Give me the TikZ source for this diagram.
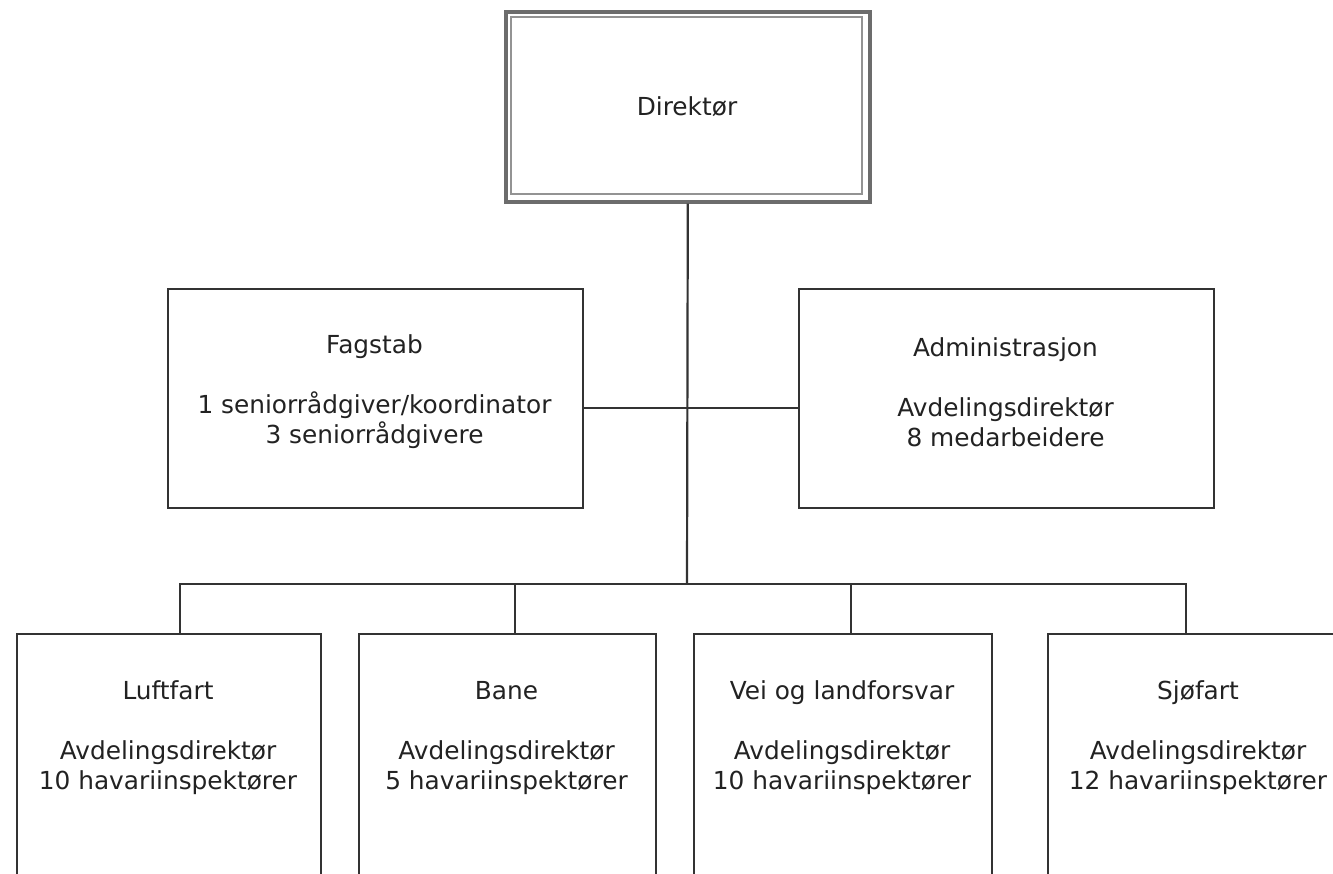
\documentclass[tikz,border=0pt]{standalone}
\usepackage{fontspec}
\setmainfont{DejaVu Sans}
\definecolor{lc}{HTML}{333333}
\definecolor{tc}{HTML}{222222}
\begin{document}
\begin{tikzpicture}[x=0.5pt,y=-0.5pt,
  box/.style={draw=lc, line width=1.2pt, fill=white, inner sep=0pt, anchor=north west},
  lbl/.style={text=tc, align=center, font=\fontsize{12.4}{15}\selectfont, inner sep=0pt},
  conn/.style={draw=lc, line width=1.1pt}]
\useasboundingbox (0,0) rectangle (1333,873);
\clip (0,0) rectangle (1333,873);
% Direktor
\node[box, draw=gray!85!black, line width=1.8pt, minimum width=182pt, minimum height=95pt] (dir) at (504,10) {};
\draw[gray!85, line width=1pt] (510.5,16.5) rectangle (861.5,193.5);
\node[lbl] (dirt) at (687,107) {Direktør};
% Fagstab / Administrasjon
\node[box, minimum width=207.5pt, minimum height=109.5pt] (fag) at (167,288) {};
\node[lbl] (fagt) at (374.5,392) {Fagstab\\[15pt]1 seniorrådgiver/koordinator\\3 seniorrådgivere};
\node[box, minimum width=207.5pt, minimum height=109.5pt] (adm) at (798,288) {};
\node[lbl] (admt) at (1005.5,392) {Administrasjon\\[15pt]Avdelingsdirektør\\8 medarbeidere};
% bottom boxes
\node[box, minimum width=152pt, minimum height=160pt] (luf) at (16,633) {};
\node[lbl] (luft) at (168,738) {Luftfart\\[15pt]Avdelingsdirektør\\10 havariinspektører};
\node[box, minimum width=148.5pt, minimum height=160pt] (ban) at (358,633) {};
\node[lbl] (bant) at (506.5,738) {Bane\\[15pt]Avdelingsdirektør\\5 havariinspektører};
\node[box, minimum width=149pt, minimum height=160pt] (vei) at (693,633) {};
\node[lbl] (veit) at (842,738) {Vei og landforsvar\\[15pt]Avdelingsdirektør\\10 havariinspektører};
\node[box, minimum width=151pt, minimum height=160pt] (sjo) at (1047,633) {};
\node[lbl] (sjot) at (1198,738) {Sjøfart\\[15pt]Avdelingsdirektør\\12 havariinspektører};
% connectors
\coordinate (bus) at (687,584);
\draw[conn] (dir.south) -- (bus);
\draw[conn] ([yshift=-4.5pt]fag.east) -- ([yshift=-4.5pt]adm.west);
\draw[conn] (luf.north -| 180,0) -- (180,584) -- (bus);
\draw[conn] (sjo.north -| 1186,0) -- (1186,584) -- (bus);
\draw[conn] (ban.north -| 515,0) -- (515,584);
\draw[conn] (vei.north -| 851,0) -- (851,584);
\end{tikzpicture}
\end{document}
